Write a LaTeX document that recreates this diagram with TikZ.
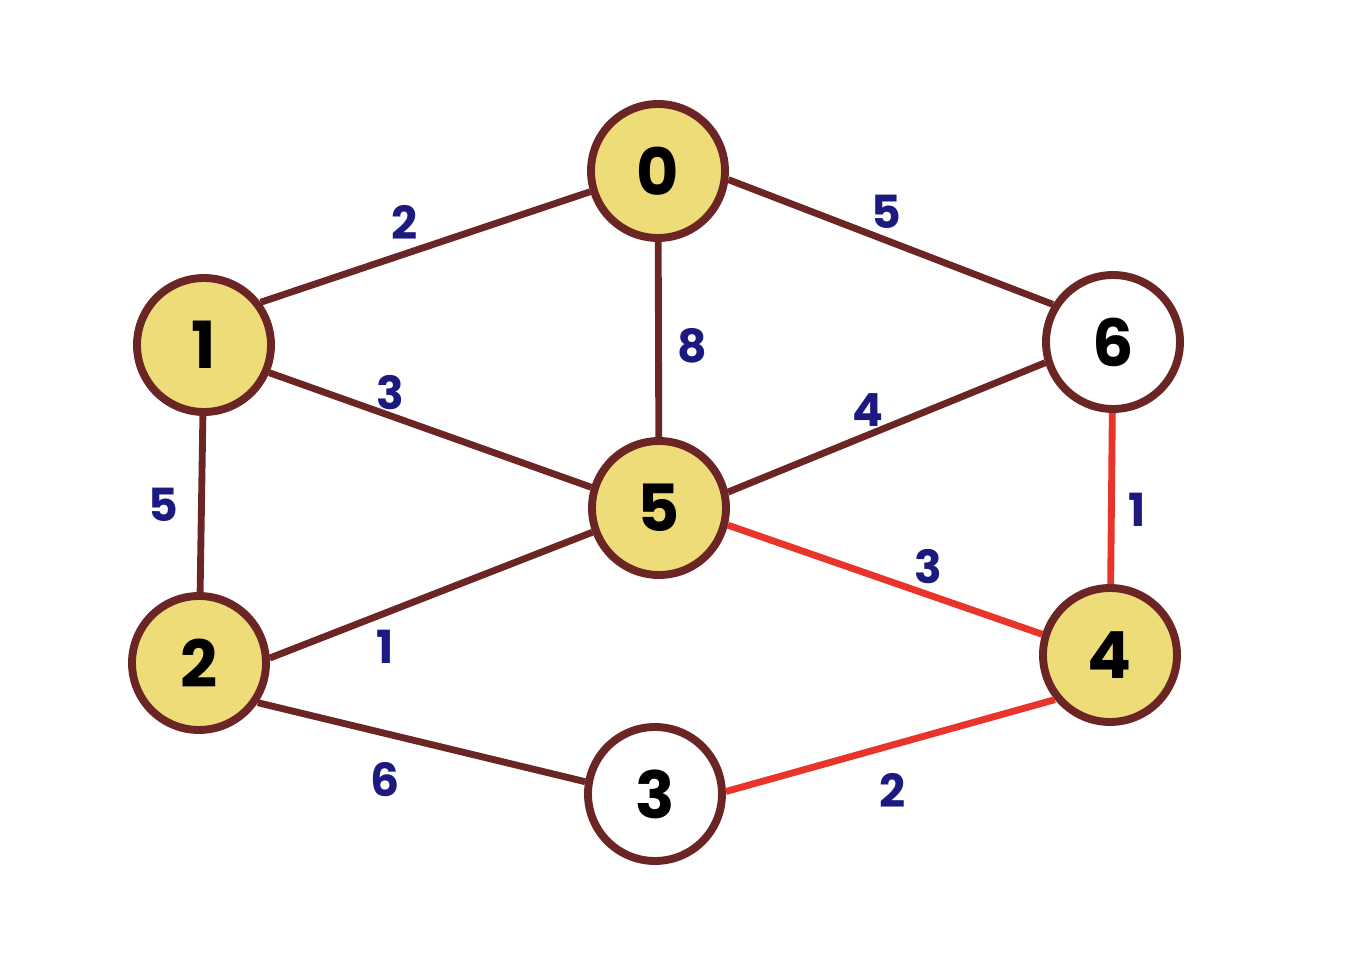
\documentclass[tikz,border=0pt]{standalone}
\usepackage{fontspec}
\setsansfont{Poppins}
\definecolor{vertexfill}{HTML}{EEDC78}
\definecolor{edgebrown}{HTML}{6B2525}
\definecolor{pickred}{HTML}{E8342A}
\definecolor{weightblue}{HTML}{1C1A80}

\begin{document}
\begin{tikzpicture}[
  font=\sffamily\bfseries,
  vertex/.style={circle, draw=edgebrown, fill=vertexfill, line width=4.5pt,
    minimum size=2.68cm, inner sep=0pt,
    font=\sffamily\bfseries\fontsize{37}{40}\selectfont},
  vertexopen/.style={vertex, fill=white},
  link/.style={draw=edgebrown, line width=3.9pt},
  chosen/.style={link, draw=pickred},
  weight/.style={text=weightblue, inner sep=0pt,
    font=\sffamily\bfseries\fontsize{26}{28}\selectfont}
]
  \useasboundingbox (0,0) rectangle (26.92,19.1);

  \node[vertex] (n0) at (13.16,15.68) {0};
  \node[vertex] (n1) at (4.08,12.2) {1};
  \node[vertex] (n2) at (3.98,5.84) {2};
  \node[vertexopen] (n3) at (13.1,3.22) {3};
  \node[vertex] (n4) at (22.2,6.0) {4};
  \node[vertex] (n5) at (13.18,8.94) {5};
  \node[vertexopen] (n6) at (22.26,12.26) {6};

  \draw[link] (n1.37) -- (n0.197);
  \draw[link] (n0.353) -- (n6.148);
  \draw[link] (n0) -- (n5);
  \draw[link] (n1.337) -- (n5.163);
  \draw[link] (n1) -- (n2);
  \draw[link] (n5.13) -- (n6.197);
  \draw[link] (n5.200) -- (n2.4);
  \draw[link] (n2.326) -- (n3.170);
  \draw[chosen] (n5.346) -- (n4.163);
  \draw[chosen] (n3.2) -- (n4.219);
  \draw[chosen] (n6) -- (n4);

  \node[weight] (w01) at (8.1,14.66) {2};
  \node[weight] (w06) at (17.72,14.86) {5};
  \node[weight] (w05) at (13.84,12.18) {8};
  \node[weight] (w15) at (7.8,11.24) {3};
  \node[weight] (w56) at (17.36,10.9) {4};
  \node[weight] (w12) at (3.26,9.0) {5};
  \node[weight] (w46) at (22.74,8.9) {1};
  \node[weight] (w45) at (18.56,7.76) {3};
  \node[weight] (w25) at (7.7,6.16) {1};
  \node[weight] (w23) at (7.7,3.5) {6};
  \node[weight] (w34) at (17.86,3.3) {2};
\end{tikzpicture}
\end{document}
